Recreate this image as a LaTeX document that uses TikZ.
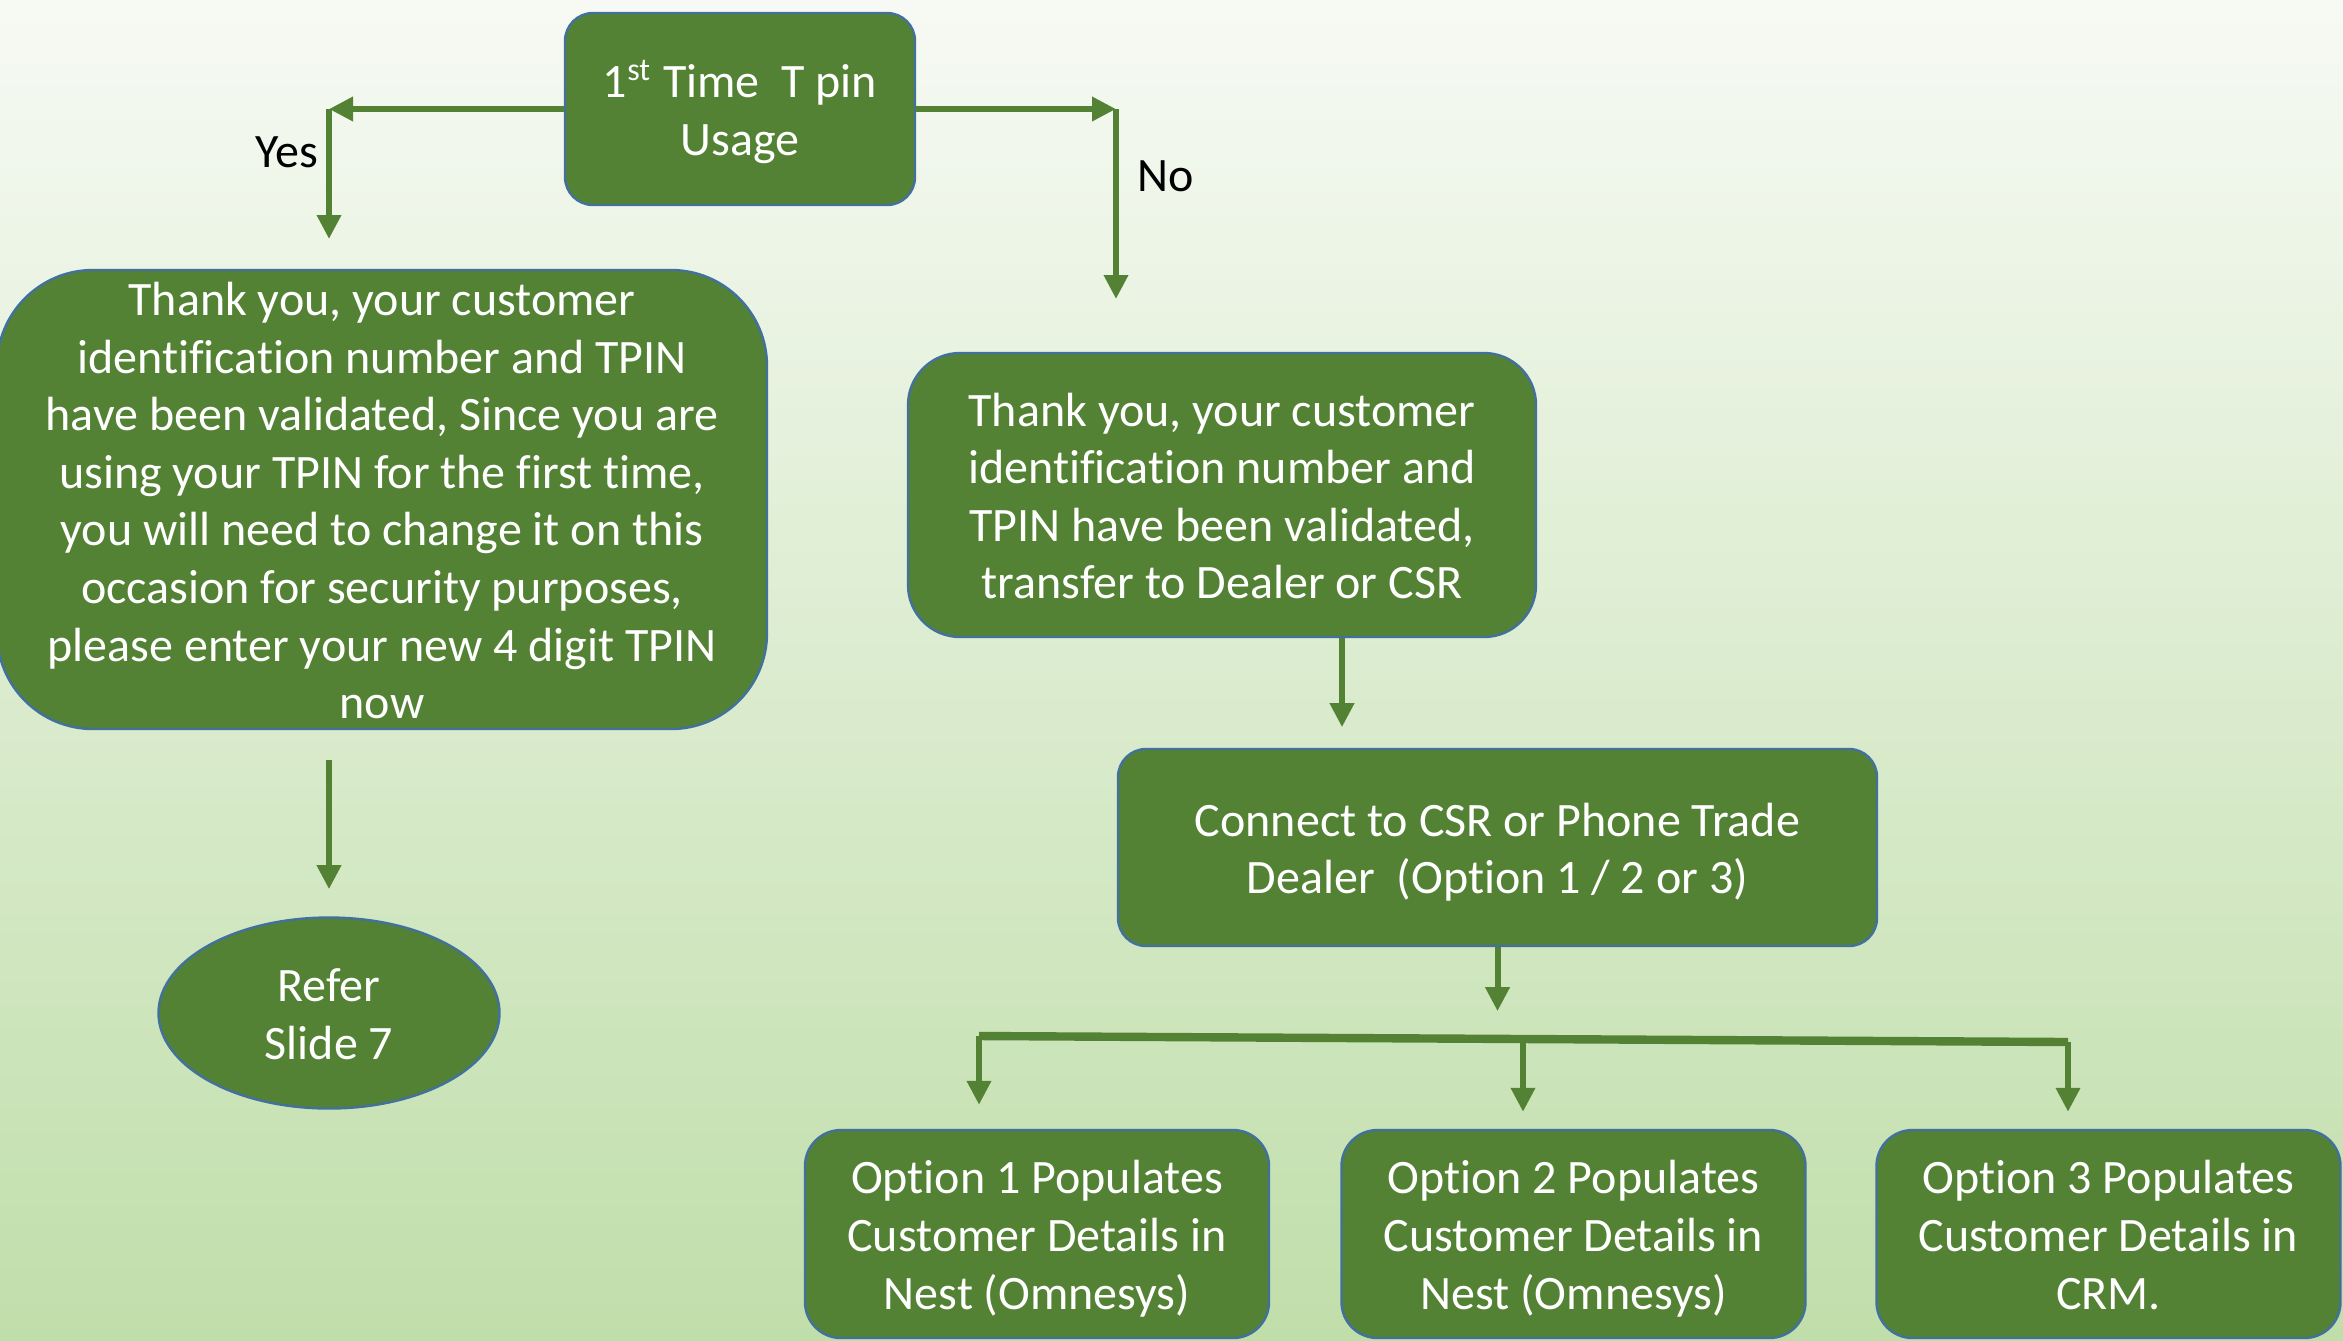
\documentclass[tikz,border=0pt]{standalone}
\usepackage{fontspec}
\setmainfont{Carlito}[Ligatures=CommonOff]
\usetikzlibrary{arrows.meta,shapes.geometric}
\definecolor{boxgreen}{RGB}{84,130,53}
\definecolor{edgeblue}{RGB}{65,113,156}
\definecolor{bgtop}{RGB}{247,250,244}
\definecolor{bgbot}{RGB}{192,222,170}
% a slightly taller strut for the first line, so text sits a touch low as in slide layouts
\newcommand\firstlinestrut{\rule{0pt}{13.1pt}}
\begin{document}
\begin{tikzpicture}[x=0.25pt,y=-0.25pt,
  txt/.style={font=\fontsize{12}{14.4}\selectfont},
  box/.style={txt,draw=edgeblue,line width=0.6pt,fill=boxgreen,text=white,
    align=center,inner sep=0pt,rectangle},
  arr/.style={draw=boxgreen,line width=1.5pt,-{Triangle[length=6pt,width=5.8pt]}},
  bar/.style={draw=boxgreen,line width=2.1pt},
  lbl/.style={txt,text=black}]

% background
\shade[top color=bgtop,bottom color=bgbot] (0,0) rectangle (2343,1340);
\useasboundingbox (0,0) rectangle (2343,1340);

% boxes
\node[box,rounded corners=7pt,minimum width=87.5pt,minimum height=48pt] (top) at (740,109)
  {\firstlinestrut 1\textsuperscript{st} Time\ \ T pin\\Usage\strut};
\node[box,rounded corners=24pt,minimum width=192.5pt,minimum height=114.75pt,inner ysep=-1.75pt] (left) at (382,499.5)
  {\firstlinestrut Thank you, your customer\\identification number and TPIN\\have been validated, Since you are\\using your TPIN for the first time,\\you will need to change it on this\\occasion for security purposes,\\please enter your new 4 digit TPIN\\now\strut};
\node[box,ellipse,minimum width=85.25pt,minimum height=47.75pt] (ell) at (329,1013)
  {\firstlinestrut Refer\\Slide 7\strut};
\node[box,rounded corners=13pt,minimum width=157pt,minimum height=71pt] (right) at (1222,495)
  {\firstlinestrut Thank you, your customer\\identification number and\\TPIN have been validated,\\transfer to Dealer or CSR\strut};
\node[box,rounded corners=7pt,minimum width=189.75pt,minimum height=49.25pt] (conn) at (1497.5,847.5)
  {\firstlinestrut Connect to CSR or Phone Trade\\Dealer\ \ (Option 1 / 2 or 3)\strut};
\node[box,rounded corners=9pt,minimum width=116pt,minimum height=52pt] (opt1) at (1037,1234)
  {\firstlinestrut Option 1 Populates\\Customer Details in\\Nest (Omnesys)\strut};
\node[box,rounded corners=9pt,minimum width=116pt,minimum height=52pt] (opt2) at (1573.5,1234)
  {\firstlinestrut Option 2 Populates\\Customer Details in\\Nest (Omnesys)\strut};
\node[box,rounded corners=9pt,minimum width=116pt,minimum height=52pt] (opt3) at (2108.5,1234)
  {\firstlinestrut Option 3 Populates\\Customer Details in\\CRM.\strut};

% labels
\node[lbl] (yes) at (287,152) {Yes};
\node[lbl] (no) at (1166,176) {No};

% branch points
\coordinate (yc) at (329,109);
\coordinate (yend) at (329,239);
\coordinate (nc) at (1116,109);
\coordinate (nend) at (1116,299);
\coordinate (b1) at (979,1036);
\coordinate (b2) at (1523,1039);
\coordinate (b3) at (2068,1042);

% connectors
\draw[arr] (top.west) -- (yc);
\draw[arr] (yc) -- (yend);
\draw[arr] (top.east) -- (nc);
\draw[arr] (nc) -- (nend);
\draw[arr] (left.south -| ell.north) ++(0,30) -- ++(0,129);
\draw[arr] ([xshift=30pt]right.south) -- ++(0,89);
\draw[arr] (conn.south) -- ++(0,64);
\draw[bar] (b1) -- (b3);
\draw[arr,shorten >=6pt] (b1) -- (opt1.north -| b1);
\draw[arr,shorten >=4.25pt] (b2) -- (opt2.north -| b2);
\draw[arr,shorten >=4.25pt] (b3) -- (opt3.north -| b3);
\end{tikzpicture}
\end{document}
